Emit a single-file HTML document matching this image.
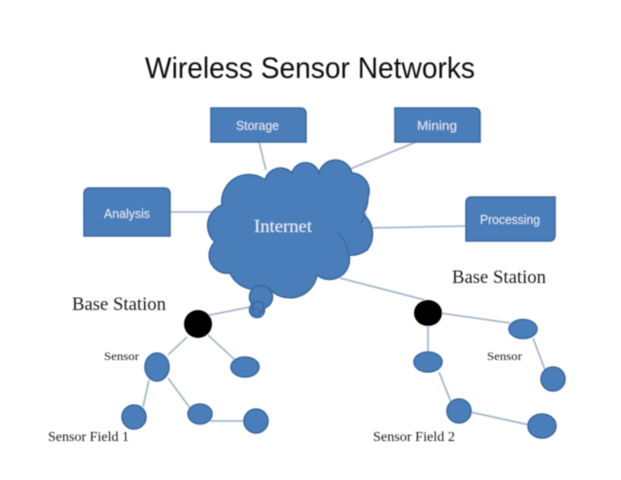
<!DOCTYPE html>
<html>
<head>
<meta charset="utf-8">
<style>
html,body{margin:0;padding:0;background:#fff;width:621px;height:480px;overflow:hidden}
svg{display:block}
.t{font-family:"Liberation Serif",serif;fill:#1c1c1c}
.s{font-family:"Liberation Sans",sans-serif;fill:#dfe8f3;font-size:13px}
</style>
</head>
<body>
<svg width="621" height="480" viewBox="0 0 621 480" xmlns="http://www.w3.org/2000/svg">
<defs><filter id="b" x="-5%" y="-5%" width="110%" height="110%"><feGaussianBlur stdDeviation="0.5"/></filter></defs>
<g filter="url(#b)">
<text x="145" y="78" font-family="Liberation Sans, sans-serif" font-size="30" fill="#111" textLength="330" lengthAdjust="spacingAndGlyphs">Wireless Sensor Networks</text>

<g stroke="#a9b8ca" stroke-width="1.8" fill="none">
<line x1="259" y1="142" x2="266" y2="170"/>
<line x1="416" y1="142" x2="350" y2="169"/>
<line x1="170" y1="212" x2="212" y2="212"/>
<line x1="368" y1="228" x2="466" y2="226"/>
<line x1="340" y1="278" x2="425" y2="300"/>
<line x1="205" y1="316" x2="250" y2="307"/>
<line x1="187" y1="337" x2="168" y2="355"/>
<line x1="208" y1="335" x2="235" y2="360"/>
<line x1="149" y1="380" x2="143" y2="407"/>
<line x1="168" y1="378" x2="190" y2="408"/>
<line x1="210" y1="421" x2="246" y2="421"/>
<line x1="428" y1="320" x2="428" y2="354"/>
<line x1="440" y1="313" x2="510" y2="323"/>
<line x1="533" y1="338" x2="545" y2="370"/>
<line x1="439" y1="372" x2="451" y2="402"/>
<line x1="470" y1="412" x2="530" y2="425"/>
</g>

<g fill="#4a7ebb" stroke="#3a689e" stroke-width="1.6">
<path d="M211 108H300Q306 108 306 114V142H211Z"/>
<path d="M395 108H474Q480 108 480 114V142H395Z"/>
<path d="M90 188H164Q170 188 170 194V236H84V194Q84 188 90 188Z"/>
<path d="M472 197H555V235Q555 241 549 241H466V203Q466 197 472 197Z"/>

<path d="M265 180 A16 16 0 0 1 292 173 A14 14 0 0 1 319 173 A17 17 0 0 1 352 173 A18 18 0 0 1 368 197 Q368 207 363 214 A26 26 0 0 1 367 250 Q358 256 349 255 A20 20 0 0 1 317 275 A27.5 27.5 0 0 1 268 287 A29 29 0 0 1 230 273 A18 18 0 0 1 215 242 A22 22 0 0 1 222 205 A27 27 0 0 1 265 180Z"/>
<circle cx="261" cy="297" r="11.5"/>
<circle cx="257" cy="310" r="7.5"/>
<circle cx="258" cy="307" r="5.5"/>
<circle cx="256" cy="312" r="3.5" stroke-width="1"/>

<ellipse cx="157" cy="367" rx="12" ry="14"/>
<ellipse cx="245" cy="367" rx="14" ry="10"/>
<circle cx="134" cy="417" r="12"/>
<ellipse cx="200" cy="414" rx="12" ry="10"/>
<circle cx="256" cy="421" r="12"/>
<ellipse cx="523" cy="329" rx="14" ry="9.5"/>
<circle cx="553" cy="379" r="12"/>
<ellipse cx="428" cy="362" rx="14" ry="10"/>
<circle cx="459" cy="411" r="12"/>
<ellipse cx="542" cy="426" rx="14" ry="12"/>
</g>
<g fill="none" stroke="#3a689e" stroke-width="1.2">
<path d="M338 233 Q346 240 349 255"/>
<path d="M361 223 L366 213"/>
</g>

<ellipse cx="198" cy="324" rx="14" ry="14" fill="#000"/>
<ellipse cx="428" cy="313" rx="14" ry="13" fill="#000"/>

<text class="s" x="236" y="130" textLength="43" lengthAdjust="spacingAndGlyphs">Storage</text>
<text class="s" x="417" y="130" textLength="40" lengthAdjust="spacingAndGlyphs">Mining</text>
<text class="s" x="104" y="218" textLength="46" lengthAdjust="spacingAndGlyphs">Analysis</text>
<text class="s" x="480" y="224" textLength="60" lengthAdjust="spacingAndGlyphs">Processing</text>
<text x="254" y="232" font-family="Liberation Serif, serif" font-size="18" fill="#e8eff7" textLength="58" lengthAdjust="spacingAndGlyphs">Internet</text>

<text class="t" x="72" y="310" font-size="18.5" textLength="94" lengthAdjust="spacingAndGlyphs">Base Station</text>
<text class="t" x="452" y="283" font-size="18.5" textLength="94" lengthAdjust="spacingAndGlyphs">Base Station</text>
<text class="t" x="104" y="360" font-size="12" textLength="35" lengthAdjust="spacingAndGlyphs">Sensor</text>
<text class="t" x="487" y="360" font-size="12" textLength="35" lengthAdjust="spacingAndGlyphs">Sensor</text>
<text class="t" x="48" y="441" font-size="13.5" textLength="81" lengthAdjust="spacingAndGlyphs">Sensor Field 1</text>
<text class="t" x="373" y="441" font-size="13.5" textLength="82" lengthAdjust="spacingAndGlyphs">Sensor Field 2</text>
</g>
</svg>
</body>
</html>
